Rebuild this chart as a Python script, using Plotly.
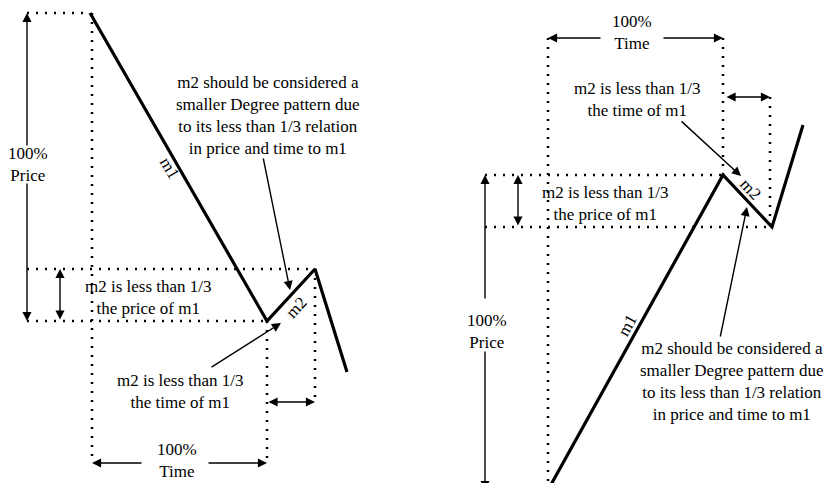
import plotly.graph_objects as go

# wave points, left panel (x = time, y = price; screen-like units, y grows downward)
left_x = [90, 267, 315, 347]
left_y = [13, 321, 269, 372]
# wave points, right panel
right_x = [548, 723, 772, 803]
right_y = [490, 175, 227, 125]

labels_m = ["m1", "m2"]
note_time = "m2 is less than 1/3<br>the time of m1"
note_price = "m2 is less than 1/3<br>the price of m1"
note_degree = ("m2 should be considered a<br>smaller Degree pattern due<br>"
               "to its less than 1/3 relation<br>in price and time to m1")
txt_price = "100%<br>Price"
txt_time = "100%<br>Time"

FONT = dict(family="Liberation Serif", size=17, color="black")

fig = go.Figure()


def dotted(xs, ys):
    fig.add_trace(go.Scatter(x=xs, y=ys, mode="lines", hoverinfo="skip",
                             line=dict(color="black", width=2.5, dash="2px,7px")))


def arrow(x0, y0, x1, y1, both=False, w=1.4):
    fig.add_annotation(x=x1, y=y1, ax=x0, ay=y0, xref="x", yref="y", axref="x", ayref="y",
                       text="", showarrow=True, arrowhead=2, startarrowhead=2,
                       arrowsize=1.3, startarrowsize=1.3, arrowwidth=w,
                       arrowside="end+start" if both else "end",
                       standoff=0, startstandoff=0, arrowcolor="black")


def label(x, y, t, ang=0):
    fig.add_annotation(x=x, y=y, xref="x", yref="y", text=t, showarrow=False,
                       font=FONT, textangle=ang, align="center")


# ---- left panel ----
dotted([27, left_x[0]], [left_y[0], left_y[0]])
dotted([92, 92], [left_y[0], 463])
dotted([27, left_x[2]], [left_y[2], left_y[2]])
dotted([27, left_x[1]], [left_y[1], left_y[1]])
dotted([left_x[1], left_x[1]], [left_y[1], 463])
dotted([left_x[2], left_x[2]], [left_y[2], 402])

fig.add_trace(go.Scatter(x=left_x, y=left_y, mode="lines", hoverinfo="skip",
                         line=dict(color="black", width=3.2)))

arrow(27, 147, 27, left_y[0])
arrow(27, 182, 27, left_y[1])
arrow(60, left_y[1], 60, left_y[2], both=True)
arrow(143, 463, 92, 463)
arrow(207, 463, left_x[1], 463)
arrow(left_x[1], 402, left_x[2], 402, both=True)
arrow(263, 157, 290, 290)
arrow(210, 368, 281, 323)

label(28, 164, txt_price)
label(177, 460, txt_time)
label(148, 297, note_price)
label(180, 391, note_time)
label(268, 115, note_degree)
label(170, 168, labels_m[0], 59)
label(296, 307, labels_m[1], -47)

# ---- right panel ----
dotted([right_x[0], right_x[0]], [38, right_y[0]])
dotted([right_x[1], right_x[1]], [38, right_y[1]])
dotted([770, 770], [97, right_y[2]])
dotted([485, right_x[1]], [right_y[1], right_y[1]])
dotted([485, right_x[2]], [right_y[2], right_y[2]])
dotted([485, right_x[0]], [right_y[0], right_y[0]])

fig.add_trace(go.Scatter(x=right_x, y=right_y, mode="lines", hoverinfo="skip",
                         line=dict(color="black", width=3.2)))

arrow(485, 300, 485, right_y[1])
arrow(485, 350, 485, right_y[0])
arrow(518, right_y[2], 518, right_y[1], both=True)
arrow(602, 38, right_x[0], 38)
arrow(662, 38, right_x[1], 38)
arrow(725, 97, 770, 97, both=True)
arrow(680, 120, 741, 176)
arrow(720, 338, 747, 207)

label(487, 331, txt_price)
label(632, 32, txt_time)
label(605, 203, note_price)
label(637, 99, note_time)
label(732, 381, note_degree)
label(627, 325, labels_m[0], -61)
label(751, 189, labels_m[1], 47)

# the page body has an 8px margin, so the figure is 16px smaller and the ranges shift
fig.update_layout(width=815, height=475, margin=dict(l=0, r=0, t=0, b=0),
                  plot_bgcolor="white", paper_bgcolor="white", showlegend=False)
fig.update_xaxes(range=[8, 823], visible=False, fixedrange=True)
fig.update_yaxes(range=[483, 8], visible=False, fixedrange=True)

fig.write_html("out.html")
